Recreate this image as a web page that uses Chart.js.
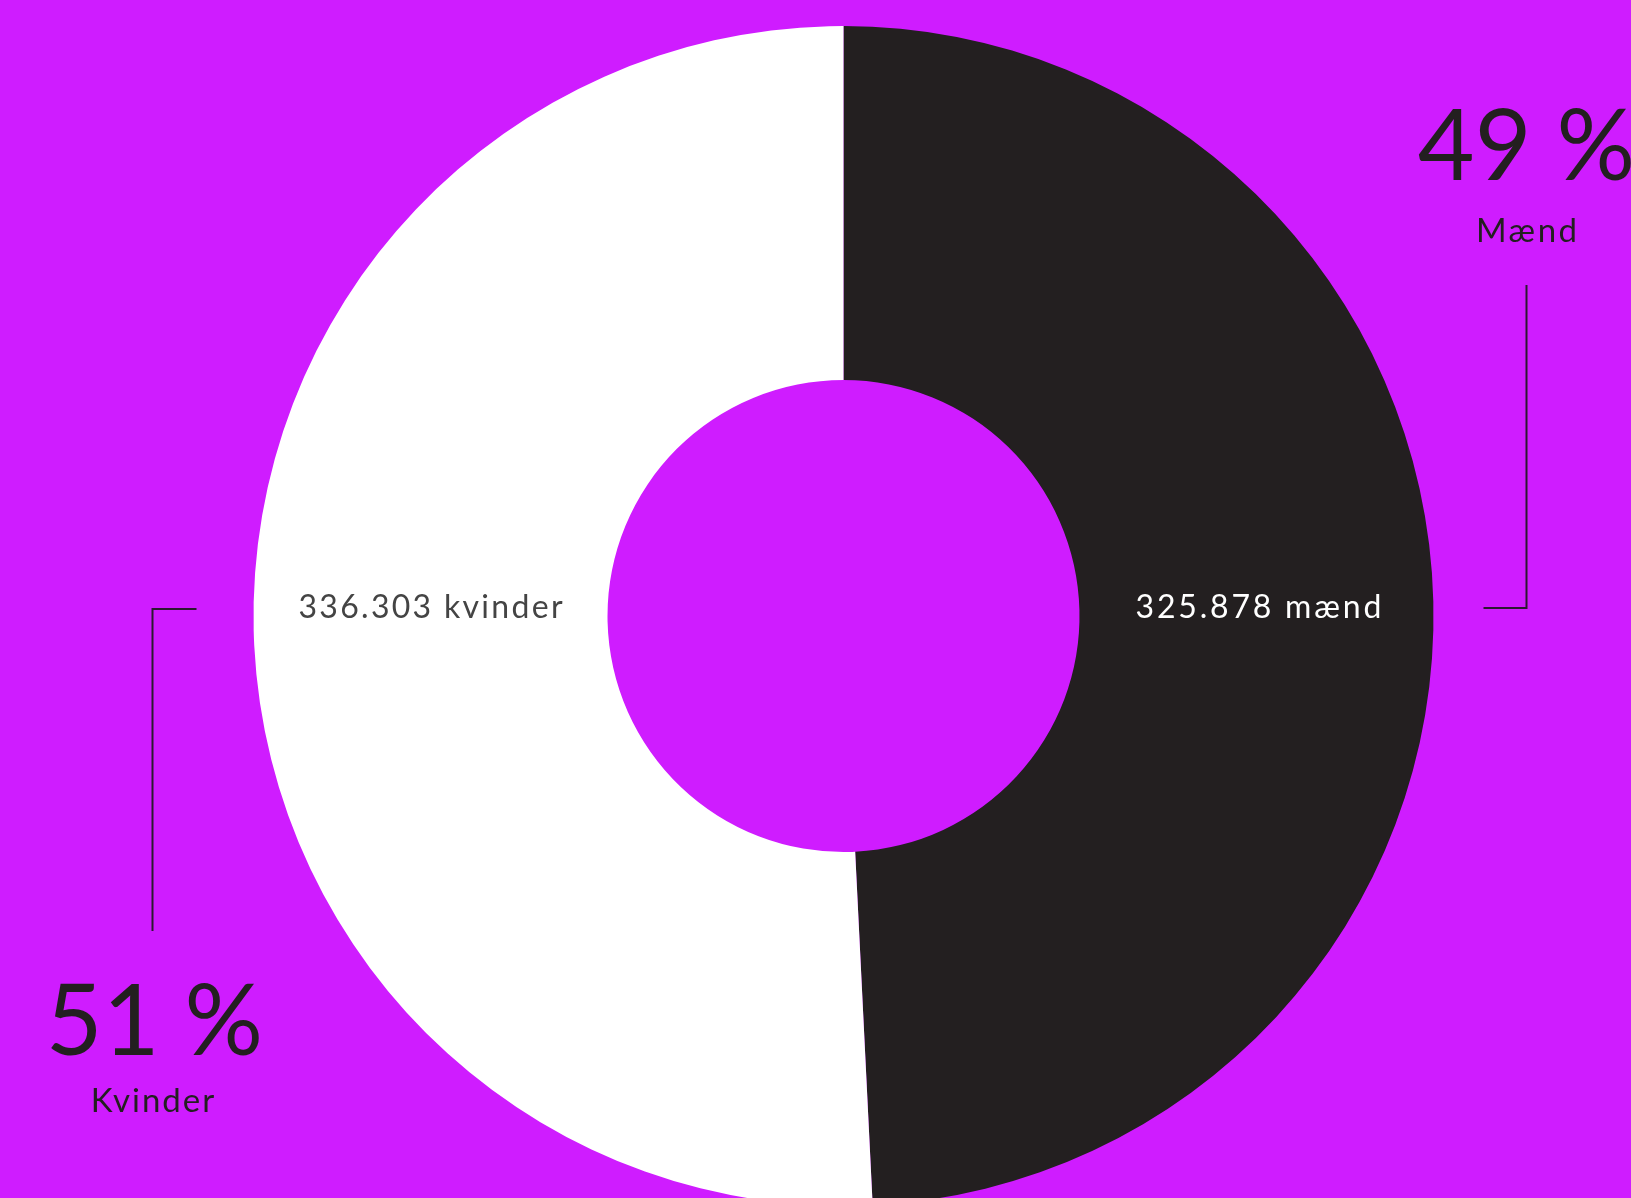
<!DOCTYPE html>
<html>
<head>
<meta charset="utf-8">
<script src="https://cdn.jsdelivr.net/npm/chart.js@4"></script>
<style>
  html, body { margin: 0; padding: 0; background: #CF1CFF; overflow: hidden; width: 1631px; height: 1198px; }
  #wrap { position: absolute; left: 0; top: 0; width: 1631px; height: 1240px; }
</style>
</head>
<body>
<div id="wrap"><canvas id="c" width="1631" height="1240"></canvas></div>
<script>
const categories = ['Mænd', 'Kvinder'];
const values = [325878, 336303];
const valueLabels = ['325.878 mænd', '336.303 kvinder'];
const percentLabels = ['49 %', '51 %'];

const BG = '#CF1CFF';
const DARK = '#231F20';

function spacedText(ctx, text, x, y, spacing) {
  ctx.letterSpacing = spacing + 'px';
  ctx.fillText(text, x + spacing / 2, y);
  ctx.letterSpacing = '0px';
}

const labelPlugin = {
  id: 'labels',
  afterDraw(chart) {
    const ctx = chart.ctx;
    const arc = chart.getDatasetMeta(0).data[0];
    const cx = arc.x, cy = arc.y;
    const rOut = arc.outerRadius, rIn = arc.innerRadius;
    const rMid = (rOut + rIn) / 2;
    ctx.save();
    ctx.textAlign = 'center';
    ctx.textBaseline = 'alphabetic';
    // inner value labels
    ctx.font = '400 32px Lato, "Open Sans", sans-serif';
    ctx.fillStyle = '#FFFFFF';
    spacedText(ctx, valueLabels[0], cx + rMid + 2, cy + 2, 2.8);
    ctx.fillStyle = '#444444';
    spacedText(ctx, valueLabels[1], cx - rMid, cy + 2, 2.3);

    // leader lines
    ctx.strokeStyle = '#2B1830';
    ctx.lineWidth = 2;
    const rx = cx + 683, lx = cx - 691;
    ctx.beginPath();
    ctx.moveTo(cx + 640, cy - 8);
    ctx.lineTo(rx, cy - 8);
    ctx.lineTo(rx, 285);
    ctx.stroke();
    ctx.beginPath();
    ctx.moveTo(cx - 647, cy - 7);
    ctx.lineTo(lx, cy - 7);
    ctx.lineTo(lx, 931);
    ctx.stroke();

    // outer percent labels
    ctx.fillStyle = '#231F20';
    ctx.font = '400 98px Lato, "Open Sans", sans-serif';
    ctx.fillText(percentLabels[0], rx, 180);
    ctx.fillText(percentLabels[1], lx + 2, 1055);
    ctx.font = '400 33px Lato, "Open Sans", sans-serif';
    spacedText(ctx, categories[0], rx, 242, 2.5);
    spacedText(ctx, categories[1], lx, 1112, 2);
    ctx.restore();
  }
};

new Chart(document.getElementById('c'), {
  type: 'doughnut',
  data: {
    labels: categories,
    datasets: [{
      data: values,
      backgroundColor: [DARK, '#FFFFFF'],
      borderWidth: 0,
      hoverOffset: 0
    }]
  },
  options: {
    responsive: false,
    animation: false,
    devicePixelRatio: 1,
    cutout: '40%',
    rotation: 0,
    layout: { padding: { top: 26, bottom: 34, left: 253.5, right: 197.5 } },
    plugins: { legend: { display: false }, tooltip: { enabled: false } }
  },
  plugins: [labelPlugin]
});
</script>
</body>
</html>
